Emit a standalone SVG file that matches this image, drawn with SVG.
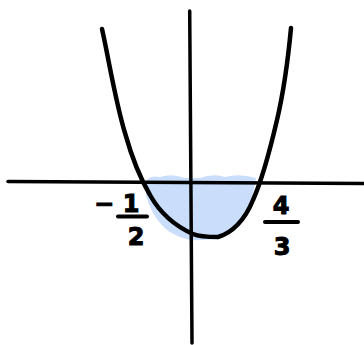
<svg xmlns="http://www.w3.org/2000/svg" width="364" height="345" viewBox="0 0 364 345">
<style>
.ink{stroke:#000;fill:none;stroke-linecap:round;stroke-linejoin:round}
.lbl{font-family:"DejaVu Sans",sans-serif;font-weight:bold;font-size:24px;fill:#000;stroke:#000;stroke-width:1;text-anchor:middle}
</style>
<rect width="364" height="345" fill="#fff"/>
<g id="region">
<path d="M146,181 Q150,175 160,177 Q172,173 185,178 L200,178 Q213,173 225,177 Q240,173 256,178 L252,200 C246,218 233,232 218,239 L200,240 C190,241 180,238 170,232 C158,224 150,210 146,195 Z" fill="#cadefb"/>
</g>
<g id="connectors">
<line class="ink" x1="8" y1="181.5" x2="364" y2="183.5" stroke-width="3.5"/>
<line class="ink" x1="189.7" y1="11" x2="192" y2="343" stroke-width="3.5"/>
</g>
<g id="curve">
<path class="ink" stroke-width="4.5" d="M102,29 C108,55 115,100 125,133 C132,158 140,178 150,195 C160,213 175,226 193,234 C200,237 210,237 218,237 C232,233 245,220 253,200 C262,180 270,150 277,120 C284,90 288,60 291,28"/>
</g>
<g id="label-left">
<text class="lbl" x="104" y="212">−</text>
<text class="lbl" x="131" y="212">1</text>
<line class="ink" x1="118" y1="216.5" x2="147" y2="216.5" stroke-width="4"/>
<text class="lbl" x="136" y="245">2</text>
</g>
<g id="label-right">
<text class="lbl" x="281" y="214">4</text>
<line class="ink" x1="265" y1="222" x2="298" y2="222" stroke-width="4"/>
<text class="lbl" x="282" y="255">3</text>
</g>
</svg>
